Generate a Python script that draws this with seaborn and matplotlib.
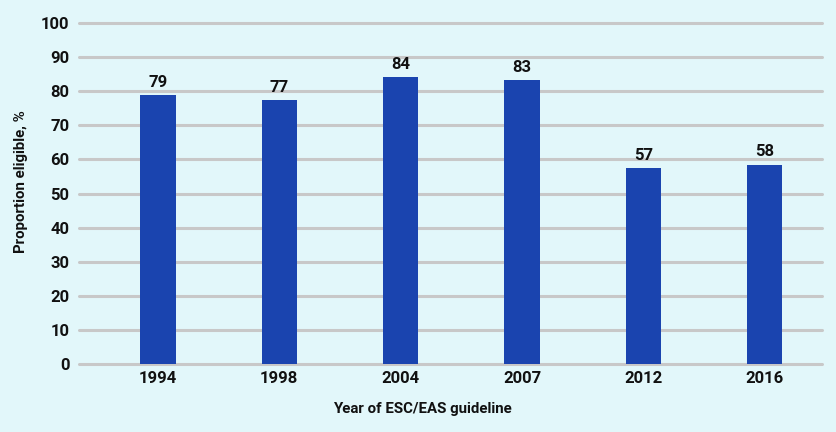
import pandas as pd
import matplotlib
matplotlib.use("Agg")
import matplotlib.pyplot as plt
import seaborn as sns

# Data.
years = ["1994", "1998", "2004", "2007", "2012", "2016"]
eligible = [78.9, 77.4, 84.1, 83.3, 57.4, 58.4]

df = pd.DataFrame({"year": years, "eligible": eligible})

bg = "#E2F7FA"
bar_colour = "#1A44AF"
ink = "#111111"

sns.set_style("white")
plt.rcParams["font.family"] = ["Roboto", "DejaVu Sans"]
plt.rcParams["font.weight"] = "bold"

fig = plt.figure(figsize=(8.37, 4.32), dpi=100, facecolor=bg)
ax = fig.add_axes([0.0944, 0.157, 0.8876, 0.7898])
ax.set_facecolor(bg)

sns.barplot(data=df, x="year", y="eligible", color=bar_colour, width=0.29,
            saturation=1, linewidth=0, ax=ax, zorder=3)

# Value labels above the bars.
for i, v in enumerate(eligible):
    ax.text(i, v + 1.6, str(round(v)), ha="center", va="bottom", fontsize=12,
            fontweight="bold", color=ink, zorder=4)

ax.set_ylim(0, 100)
ax.set_xlim(-0.65, 5.47)
ax.set_yticks(range(0, 101, 10))
ax.grid(axis="y", color="#C8C8C8", linewidth=2.2, zorder=0)
for line in ax.get_ygridlines():
    line.set_clip_on(False)
ax.grid(axis="x", visible=False)

for s in ax.spines.values():
    s.set_visible(False)
ax.tick_params(axis="both", length=0, labelsize=12, colors=ink)
ax.tick_params(axis="y", pad=7)
ax.tick_params(axis="x", pad=5)
for lab in ax.get_xticklabels() + ax.get_yticklabels():
    lab.set_fontweight("bold")

ax.set_xlabel("Year of ESC/EAS guideline", fontsize=10.8, fontweight="bold",
              color=ink)
ax.set_ylabel("Proportion eligible, %", fontsize=10.8, fontweight="bold",
              color=ink)
ax.xaxis.set_label_coords(0.462, -0.112)
ax.yaxis.set_label_coords(-0.069, 0.535)

fig.savefig("out.png", dpi=100, facecolor=bg)
